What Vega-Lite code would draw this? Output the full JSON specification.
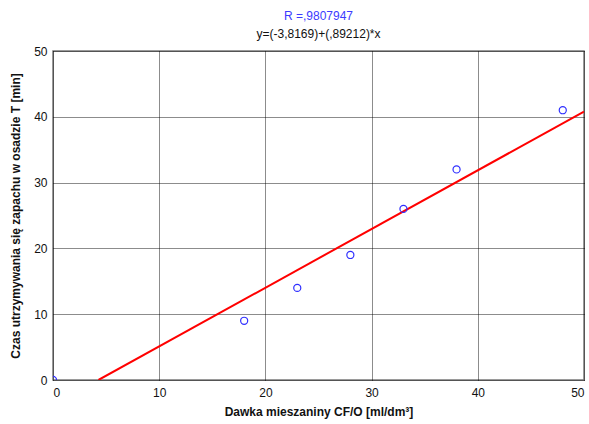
{
  "$schema": "https://vega.github.io/schema/vega-lite/v6.json",
  "width": 531,
  "height": 329,
  "autosize": {"type": "none"},
  "padding": {"left": 53, "top": 51, "right": 5, "bottom": 44},
  "background": "white",
  "title": {
    "text": "R =,9807947",
    "subtitle": "y=(-3,8169)+(,89212)*x",
    "anchor": "middle",
    "font": "Liberation Sans",
    "fontSize": 12,
    "fontWeight": "normal",
    "color": "#3b3bff",
    "subtitleFont": "Liberation Sans",
    "subtitleFontSize": 12,
    "subtitleColor": "#111111",
    "subtitlePadding": 6,
    "offset": 4
  },
  "config": {
    "view": {"stroke": "#7a7a7a", "strokeWidth": 1.5},
    "axis": {
      "labelFont": "Liberation Sans",
      "labelFontSize": 12,
      "labelColor": "#111111",
      "titleFont": "Liberation Sans",
      "titleFontSize": 12,
      "titleFontWeight": "bold",
      "titleColor": "#111111",
      "domain": false,
      "ticks": false,
      "grid": true,
      "gridColor": "#000000",
      "gridDash": [1, 1],
      "gridWidth": 1,
      "gridOpacity": 0.9
    }
  },
  "datasets": {
    "points": [
      {"dawka": 0, "czas": 0},
      {"dawka": 18, "czas": 9},
      {"dawka": 23, "czas": 14},
      {"dawka": 28, "czas": 19},
      {"dawka": 33, "czas": 26},
      {"dawka": 38, "czas": 32},
      {"dawka": 48, "czas": 41}
    ],
    "fit": [
      {"dawka": 4.28, "czas": 0},
      {"dawka": 50, "czas": 40.79}
    ]
  },
  "layer": [
    {
      "data": {"name": "fit"},
      "mark": {"type": "line", "color": "#ff0000", "strokeWidth": 2, "clip": true},
      "encoding": {
        "x": {"field": "dawka", "type": "quantitative", "scale": {"domain": [0, 50], "nice": false},
          "axis": {"values": [0, 10, 20, 30, 40, 50], "title": "Dawka mieszaniny CF/O [ml/dm³]", "labelPadding": 7, "titlePadding": 8}},
        "y": {"field": "czas", "type": "quantitative", "scale": {"domain": [0, 50], "nice": false},
          "axis": {"values": [0, 10, 20, 30, 40, 50], "title": "Czas utrzymywania się zapachu w osadzie T [min]", "labelPadding": 6, "titlePadding": 11}}
      }
    },
    {
      "data": {"name": "points"},
      "mark": {"type": "point", "shape": "circle", "filled": false, "color": "#2f2fff", "opacity": 1, "size": 50, "strokeWidth": 1.2, "clip": true},
      "encoding": {
        "x": {"field": "dawka", "type": "quantitative"},
        "y": {"field": "czas", "type": "quantitative"}
      }
    }
  ]
}
